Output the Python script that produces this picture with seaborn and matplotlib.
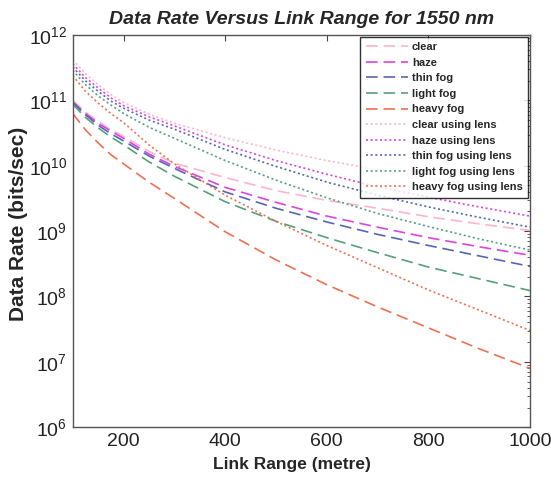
import numpy as np
import pandas as pd
import seaborn as sns
from matplotlib import pyplot as plt
from matplotlib.ticker import LogLocator, NullFormatter

# -------- data (log10 of bits/sec) --------
link_range = [100, 125, 150, 175, 200, 250, 300, 400, 500, 600, 700, 800, 900, 1000]

clear = [11.00, 10.82, 10.68, 10.55, 10.45, 10.22, 10.04, 9.82, 9.62, 9.47, 9.35, 9.22, 9.11, 9.01]
haze = [10.98, 10.80, 10.65, 10.53, 10.42, 10.18, 9.99, 9.67, 9.44, 9.23, 9.06, 8.90, 8.76, 8.63]
thin_fog = [10.97, 10.78, 10.62, 10.49, 10.38, 10.15, 9.96, 9.60, 9.35, 9.14, 8.95, 8.78, 8.62, 8.46]
light_fog = [10.94, 10.74, 10.58, 10.44, 10.32, 10.06, 9.84, 9.45, 9.15, 8.90, 8.67, 8.45, 8.27, 8.09]
heavy_fog = [10.80, 10.55, 10.35, 10.17, 10.03, 9.75, 9.50, 8.99, 8.56, 8.18, 7.84, 7.52, 7.20, 6.90]

clear_lens = [11.62, 11.41, 11.24, 11.09, 10.97, 10.79, 10.65, 10.43, 10.24, 10.08, 9.94, 9.81, 9.70, 9.60]
haze_lens = [11.56, 11.35, 11.19, 11.04, 10.92, 10.75, 10.61, 10.32, 10.08, 9.87, 9.68, 9.52, 9.37, 9.23]
thin_fog_lens = [11.51, 11.30, 11.14, 10.99, 10.88, 10.70, 10.56, 10.25, 9.99, 9.75, 9.55, 9.37, 9.21, 9.06]
light_fog_lens = [11.46, 11.24, 11.07, 10.93, 10.80, 10.59, 10.42, 10.08, 9.78, 9.51, 9.27, 9.07, 8.88, 8.71]
heavy_fog_lens = [11.38, 11.14, 10.96, 10.80, 10.66, 10.32, 10.03, 9.55, 9.15, 8.78, 8.44, 8.10, 7.79, 7.48]

labels = ["clear", "haze", "thin fog", "light fog", "heavy fog",
          "clear using lens", "haze using lens", "thin fog using lens",
          "light fog using lens", "heavy fog using lens"]
series = [clear, haze, thin_fog, light_fog, heavy_fog,
          clear_lens, haze_lens, thin_fog_lens, light_fog_lens, heavy_fog_lens]
colours = ["#ffb3cf", "#dd44dd", "#5566b0", "#55a07a", "#ee7050"] * 2

# -------------------------------------------------------------

rows = []
for lab, vals in zip(labels, series):
    for r, v in zip(link_range, vals):
        rows.append({"range": r, "rate": 10 ** v, "label": lab})
df = pd.DataFrame(rows)

sns.set_style("white")
plt.rcParams['font.family'] = ['Liberation Sans', 'DejaVu Sans']

fig = plt.figure(figsize=(5.51, 4.8), dpi=100)
ax = fig.add_axes([0.132, 0.110, 0.830, 0.817])

palette = dict(zip(labels, colours))
dashes = {lab: ((7, 3.5) if i < 5 else (1.2, 1.6)) for i, lab in enumerate(labels)}

sns.lineplot(data=df, x="range", y="rate", hue="label", style="label",
             hue_order=labels, style_order=labels, palette=palette,
             dashes=dashes, linewidth=1.2, ax=ax)

ax.set_yscale("log")
ax.set_xlim(100, 1000)
ax.set_ylim(1e6, 1e12)
ax.set_xticks([200, 400, 600, 800, 1000])
ax.yaxis.set_major_locator(LogLocator(base=10, numticks=10))
ax.yaxis.set_minor_locator(LogLocator(base=10, subs=np.arange(2, 10), numticks=10))
ax.yaxis.set_minor_formatter(NullFormatter())

ax.tick_params(which="both", direction="in", top=True, right=True, labelsize=14,
               color="#444444", labelcolor="#222222")
ax.tick_params(which="major", length=4, pad=4)
ax.tick_params(which="minor", length=2)
for s in ax.spines.values():
    s.set_color("#555555")
    s.set_linewidth(1.0)

ax.set_xlabel("Link Range (metre)", fontsize=12.5, fontweight="bold")
ax.xaxis.set_label_coords(0.48, -0.075)
ax.set_ylabel("Data Rate (bits/sec)", fontsize=15, fontweight="bold")
ax.yaxis.set_label_coords(-0.097, 0.518)
ax.set_title("Data Rate Versus Link Range for 1550 nm", fontsize=14,
             fontweight="bold", style="italic", pad=8)

leg = ax.legend(loc="upper right", fontsize=8, handlelength=3.8,
                frameon=True, fancybox=False, borderaxespad=0.15,
                labelspacing=0.5, handletextpad=0.35, borderpad=0.5)
leg.get_frame().set_edgecolor("black")
leg.get_frame().set_linewidth(1.0)
for t in leg.get_texts():
    t.set_fontweight("bold")

fig.savefig("out.png", dpi=100)
